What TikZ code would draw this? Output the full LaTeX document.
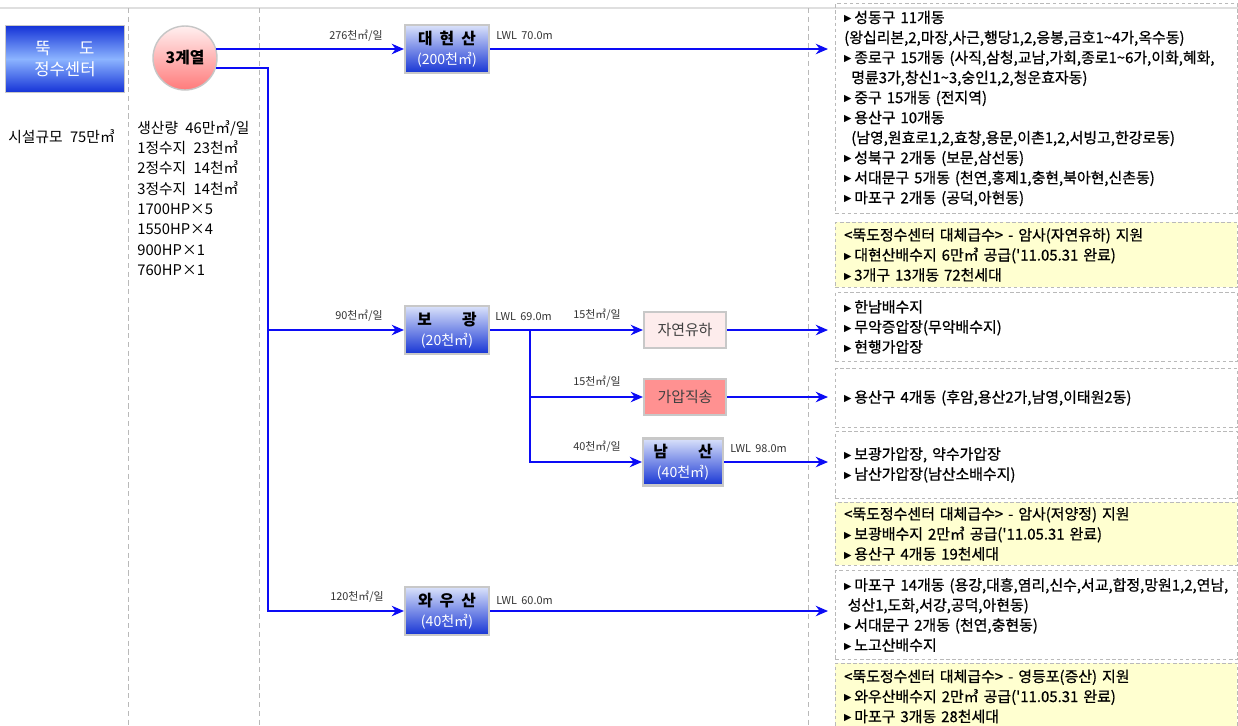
\documentclass[tikz,border=0pt]{standalone}
\usepackage{fontspec}
\setmainfont{Noto Sans CJK KR}
\newfontfamily\symfont{DejaVu Sans}
\newfontfamily\listfont{Noto Sans CJK KR}[FakeBold=0.7]
\usetikzlibrary{arrows.meta}

\definecolor{flowblue}{RGB}{12,12,245}
\definecolor{edgegray}{RGB}{200,200,200}
\definecolor{dashgray}{RGB}{185,185,185}
\definecolor{notefill}{RGB}{255,255,208}
\definecolor{palepink}{RGB}{253,236,236}
\definecolor{salmon}{RGB}{255,145,145}
\definecolor{tankdark}{RGB}{22,52,212}
\definecolor{tanklight}{RGB}{218,226,250}
\definecolor{plantdark}{RGB}{20,50,215}
\definecolor{plantlight}{RGB}{140,180,255}

\newcommand{\bulletmark}{\raisebox{0.8pt}{\symfont\fontsize{5.5}{5.5}\selectfont ▶}\hspace{1.5pt}}

\tikzset{
  flow/.style={draw=flowblue, line width=0.75pt, -{Stealth[length=7pt,width=6pt]}},
  pipe/.style={draw=flowblue, line width=0.75pt},
  divider/.style={draw=dashgray, line width=0.5pt, dash pattern=on 3pt off 2pt},
  plantbox/.style={shape=rectangle, draw=edgegray, line width=1pt, top color=plantdark, bottom color=plantdark, middle color=plantlight, minimum width=2.38cm, minimum height=1.34cm, align=center, text=white, font=\fontsize{9.5}{12}\selectfont},
  series/.style={shape=circle, draw=gray!45, line width=0.8pt, top color=red!6, bottom color=red!52, minimum size=1.28cm, font=\bfseries\fontsize{9}{11}\selectfont},
  tank/.style={shape=rectangle, draw=edgegray, line width=1.2pt, top color=tanklight, bottom color=tankdark, minimum width=1.68cm, minimum height=0.96cm, align=center, inner sep=1pt, font=\fontsize{9}{11.3}\selectfont},
  mode/.style={shape=rectangle, draw=edgegray, line width=1.2pt, minimum width=1.64cm, minimum height=0.72cm, text=black!75, font=\fontsize{8.5}{10}\selectfont},
  rate/.style={text=black!80, inner sep=0pt, font=\fontsize{6.2}{7}\selectfont},
  plain/.style={inner sep=0pt, align=left, font=\fontsize{8.4}{11.6}\selectfont},
  area/.style={anchor=north west, draw=dashgray, line width=0.5pt, dash pattern=on 2pt off 1.5pt, text width=7.69cm, inner xsep=5pt, inner ysep=0pt, align=left, font=\listfont\fontsize{8.5}{11.4}\selectfont},
  note/.style={area, fill=notefill}
}

\begin{document}
\begin{tikzpicture}[x=0.02cm,y=-0.02cm]
  \useasboundingbox (0,0) rectangle (1238,725);

  \draw[draw=gray!25, line width=0.6pt] (0,8) -- (1238,8);
  \draw[divider] (128,8) -- (128,725);
  \draw[divider] (259,8) -- (259,725);
  \draw[divider] (808,8) -- (808,725);

  \node[plantbox] (tukdo) at (65,59) {뚝\hspace{1.7em}도\\정수센터};
  \node[plain, anchor=west] (scale) at (8,137) {시설규모\hspace{0.5em}75만㎥};
  \node[series] (gyeyeol) at (185,58) {3계열};
  \node[plain, anchor=west] (capacity) at (137,198) {생산량\hspace{0.5em}46만㎥/일\\1정수지\hspace{0.5em}23천㎥\\2정수지\hspace{0.5em}14천㎥\\3정수지\hspace{0.5em}14천㎥\\1700HP×5\\1550HP×4\\900HP×1\\760HP×1};

  \node[tank] (daehyeon) at (447,49) {\textbf{대\hspace{0.45em}현\hspace{0.45em}산}\\{\color{white}\fontsize{8}{10}\selectfont(200천㎥)}};
  \node[tank] (bogwang) at (447,330) {\textbf{보\hspace{1.9em}광}\\{\color{white}\fontsize{8}{10}\selectfont(20천㎥)}};
  \node[tank] (wawoo) at (447,611) {\textbf{와\hspace{0.45em}우\hspace{0.45em}산}\\{\color{white}\fontsize{8}{10}\selectfont(40천㎥)}};
  \node[tank, minimum width=1.6cm, minimum height=0.94cm] (namsan) at (683,462) {\textbf{남\hspace{1.9em}산}\\{\color{white}\fontsize{8}{10}\selectfont(40천㎥)}};
  \node[mode, fill=palepink] (jayeon) at (685,330) {자연유하};
  \node[mode, fill=salmon] (gaap) at (685,397) {가압직송};

  \coordinate (split) at (268,330);
  \coordinate (fork) at (530,330);
  \coordinate (out1) at (828,49);
  \coordinate (out2) at (828,330);
  \coordinate (out3) at (828,397);
  \coordinate (out4) at (828,462);
  \coordinate (out5) at (828,611);

  \draw[flow] (gyeyeol.16) -- (gyeyeol.16 -| daehyeon.west);
  \draw[pipe] (gyeyeol.-18) -| (split);
  \draw[flow] (split) -- (bogwang.west);
  \draw[flow] (split) |- (wawoo.west);
  \draw[flow] (bogwang.east) -- (jayeon.west);
  \draw[flow] (fork) |- (gaap.west);
  \draw[flow] (fork) |- (namsan.west);
  \draw[flow] (daehyeon.east) -- (out1);
  \draw[flow] (jayeon.east) -- (out2);
  \draw[flow] (gaap.east) -- (out3);
  \draw[flow] (namsan.east) -- (out4);
  \draw[flow] (wawoo.east) -- (out5);

  \node[rate] (q1) at (356,36) {276천㎥/일};
  \node[rate, anchor=west] (lwl1) at (496,36) {LWL\hspace{0.4em}70.0m};
  \node[rate] (q2) at (359,316) {90천㎥/일};
  \node[rate, anchor=west] (lwl2) at (495,317) {LWL\hspace{0.4em}69.0m};
  \node[rate] (q3) at (597,315) {15천㎥/일};
  \node[rate] (q4) at (597,382) {15천㎥/일};
  \node[rate] (q5) at (597,447) {40천㎥/일};
  \node[rate, anchor=west] (lwl3) at (730,449) {LWL\hspace{0.4em}98.0m};
  \node[rate] (q6) at (357,597) {120천㎥/일};
  \node[rate, anchor=west] (lwl4) at (496,601) {LWL\hspace{0.4em}60.0m};

  \node[area, minimum height=4.2cm] (east1) at (835,3) {\bulletmark 성동구 11개동\\
(왕십리본,2,마장,사근,행당1,2,응봉,금호1\textasciitilde4가,옥수동)\\
\bulletmark 종로구 15개동 (사직,삼청,교남,가회,종로1\textasciitilde6가,이화,혜화,\\
\hspace*{4pt}명륜3가,창신1\textasciitilde3,숭인1,2,청운효자동)\\
\bulletmark 중구 15개동 (전지역)\\
\bulletmark 용산구 10개동\\
\hspace*{4pt}(남영,원효로1,2,효창,용문,이촌1,2,서빙고,한강로동)\\
\bulletmark 성북구 2개동 (보문,삼선동)\\
\bulletmark 서대문구 5개동 (천연,홍제1,충현,북아현,신촌동)\\
\bulletmark 마포구 2개동 (공덕,아현동)};
  \node[note, minimum height=1.3cm] (east2) at (835,222) {<뚝도정수센터 대체급수> - 암사(자연유하) 지원\\
\bulletmark 대현산배수지 6만㎥ 공급('11.05.31 완료)\\
\bulletmark 3개구 13개동 72천세대};
  \node[area, minimum height=1.38cm] (east3) at (835,292) {\bulletmark 한남배수지\\
\bulletmark 무악증압장(무악배수지)\\
\bulletmark 현행가압장};
  \node[area, minimum height=1.18cm] (east4) at (835,368) {\bulletmark 용산구 4개동 (후암,용산2가,남영,이태원2동)};
  \node[area, minimum height=1.34cm] (east5) at (835,431) {\bulletmark 보광가압장, 약수가압장\\
\bulletmark 남산가압장(남산소배수지)};
  \node[note, minimum height=1.26cm] (east6) at (835,502) {<뚝도정수센터 대체급수> - 암사(저양정) 지원\\
\bulletmark 보광배수지 2만㎥ 공급('11.05.31 완료)\\
\bulletmark 용산구 4개동 19천세대};
  \node[area, minimum height=1.78cm] (east7) at (835,570) {\bulletmark 마포구 14개동 (용강,대흥,염리,신수,서교,합정,망원1,2,연남,\\
\hspace*{2pt}성산1,도화,서강,공덕,아현동)\\
\bulletmark 서대문구 2개동 (천연,충현동)\\
\bulletmark 노고산배수지};
  \node[note, minimum height=1.32cm] (east8) at (835,663) {<뚝도정수센터 대체급수> - 영등포(증산) 지원\\
\bulletmark 와우산배수지 2만㎥ 공급('11.05.31 완료)\\
\bulletmark 마포구 3개동 28천세대};
\end{tikzpicture}
\end{document}
